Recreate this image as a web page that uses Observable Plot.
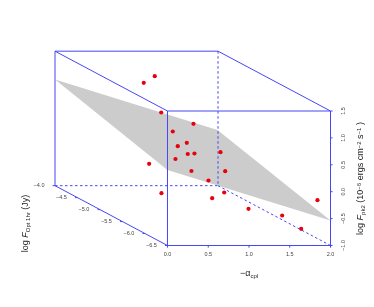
<!DOCTYPE html>
<html><head><meta charset="utf-8">
<style>html,body{margin:0;padding:0;background:#fff}svg{display:block;filter:blur(0.35px)}</style>
<script src="https://cdn.jsdelivr.net/npm/d3@7"></script>
<script src="https://cdn.jsdelivr.net/npm/@observablehq/plot@0.6"></script>
</head><body><div id="c"></div>
<script>
// Projected coordinates: x in alpha units, y in log F_pk2 units
const pointX = [-0.291,-0.156,-0.077,0.319,0.065,0.237,0.126,0.249,0.331,0.098,-0.225,0.650,-0.074,0.294,0.708,0.503,0.696,0.548,0.994,1.407,1.640,1.840];
const pointY = [2.024,2.147,1.472,1.262,1.119,0.909,0.846,0.701,0.710,0.608,0.519,0.734,-0.028,0.385,0.381,0.208,-0.015,-0.121,-0.318,-0.442,-0.690,-0.158];
const planeX = [-1.380,0.613,2,0];
const planeY = [2.086,1.147,-0.535,0.403];
const alphaTicks = [0,0.5,1,1.5,2];
const pkTicks = [-1,-0.5,0,0.5,1,1.5];
const optTicks = [-4,-4.5,-5,-5.5,-6,-6.5];
const dxDepth = -1.380, dyDepth = 1.112; // shift of the back face, in scale units

const xb = dxDepth, yb = -1 + dyDepth, yt = 1.5, ytb = 1.5 + dyDepth;
const solid = [
  [xb,ytb,xb,yb],[xb,ytb,2+xb,ytb],[xb,ytb,0,yt],[2+xb,ytb,2,yt],
  [0,yt,2,yt],[0,yt,0,-1],[0,-1,2,-1],[2,yt,2,-1],[xb,yb,0,-1]
];
const dashed = [[xb,yb,2+xb,yb],[2+xb,ytb,2+xb,yb],[2+xb,yb,2,-1]];
const depthPos = d => { const t = (d + 6.5) / 2.5; return {x: dxDepth*t, y: -1 + dyDepth*t}; };
const pts = pointX.map((x,i)=>({x,y:pointY[i]}));
const plane = planeX.map((x,i)=>({x,y:planeY[i]}));
const fmt = v => (v<0?"\u2212":"")+Math.abs(v).toFixed(1);
const tickC = "#444";
const lineC = "#4646f5";
const link = (data,opt)=>Plot.link(data,{x1:d=>d[0],y1:d=>d[1],x2:d=>d[2],y2:d=>d[3],...opt});

const chart = Plot.plot({
  width:374,height:307,
  margin:0,
  style:{background:"#fff",fontFamily:"'Liberation Sans',sans-serif"},
  x:{domain:[-1.380,2],range:[54.5,330],axis:null},
  y:{domain:[-1,2.606],range:[245,51],axis:null},
  marks:[
    Plot.line(plane.concat(plane[0]),{x:"x",y:"y",fill:"#cccccc",stroke:"none"}),
    link(solid,{stroke:lineC,strokeWidth:1}),
    link(dashed,{stroke:lineC,strokeWidth:1,strokeDasharray:"2.5,2.5"}),
    link(alphaTicks.map(a=>[a,-1,a,-1.04]),{stroke:lineC}),
    link(pkTicks.map(v=>[2,v,2.025,v]),{stroke:lineC}),
    link(optTicks.map(d=>{const p=depthPos(d);return [p.x,p.y,p.x-0.03,p.y];}),{stroke:lineC}),
    Plot.dot(pts,{x:"x",y:"y",r:2.1,fill:"#e8000d"}),
    Plot.text(alphaTicks,{x:d=>d,y:-1,dy:9,text:fmt,fontSize:5.5,fill:tickC}),
    Plot.text(pkTicks,{x:2,y:d=>d,dx:13,text:fmt,fontSize:5.5,fill:tickC,rotate:-90}),
    Plot.text(optTicks,{x:d=>depthPos(d).x,y:d=>depthPos(d).y,dx:-16,text:fmt,fontSize:5.5,fill:tickC}),
    Plot.text(["@alpha"],{x:1,y:-1,dy:28,text:d=>d,fontSize:9,fill:"#222"}),
    Plot.text(["@opt"],{x:0,y:-1,dx:-142,dy:-22,text:d=>d,fontSize:9,fill:"#222",rotate:-90}),
    Plot.text(["@pk"],{x:2,y:-1,dx:30,dy:-67,text:d=>d,fontSize:9,fill:"#222",rotate:-90})
  ]
});

function rich(key, parts){
  d3.select(chart).selectAll("text").filter(function(){return this.textContent===key;}).each(function(){
    const t=d3.select(this); t.text(null);
    parts.forEach(([s,k])=>{
      const sp=t.append("tspan").text(s);
      if(k==="i") sp.attr("font-style","italic");
      if(k==="sub") sp.attr("font-size",6).attr("dy","0.25em");
      if(k==="sup") sp.attr("font-size",6).attr("dy","-0.4em");
      if(k==="back") sp.attr("dy","-0.18em");
      if(k==="backup") sp.attr("dy","0.25em");
    });
  });
}
rich("@alpha",[["\u2212\u03b1"],["cpl","sub"]]);
rich("@opt",[["log "],["F","i"],["Opt 1hr","sub"],[" (Jy)","back"]]);
rich("@pk",[["log "],["F","i"],["pk2","sub"],[" (10","back"],["\u22126","sup"],[" ergs cm","backup"],["\u22122","sup"],[" s","backup"],["\u22121","sup"],[" )","backup"]]);
document.getElementById("c").appendChild(chart);
</script></body></html>
